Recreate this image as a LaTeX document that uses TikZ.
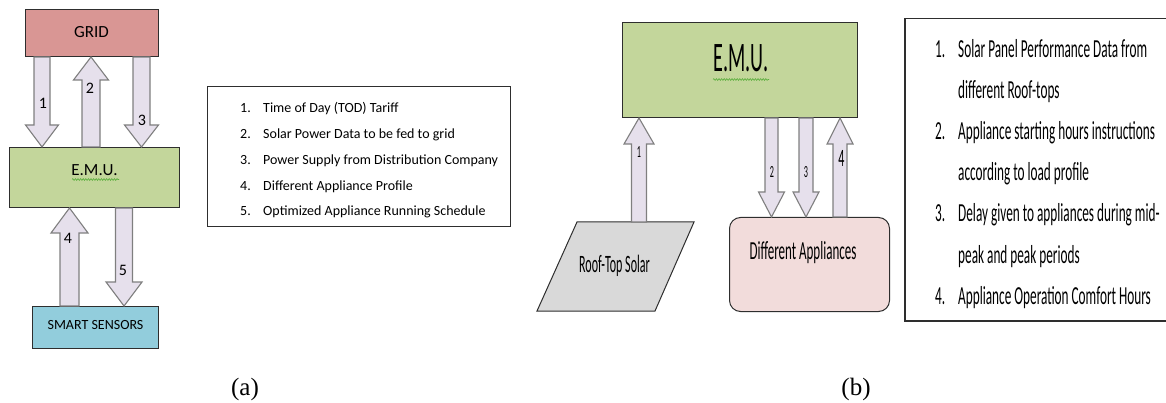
\documentclass[tikz,border=0pt]{standalone}
\usepackage{fontspec}
\usepackage{graphicx}
\setmainfont{Carlito}
\newfontfamily\serifcap{Liberation Serif}
\usetikzlibrary{calc,decorations.pathmorphing}

\definecolor{gridred}{HTML}{D99694}
\definecolor{emugreen}{HTML}{C3D69B}
\definecolor{sensorblue}{HTML}{92CDDC}
\definecolor{solargray}{HTML}{D9D9D9}
\definecolor{applpink}{HTML}{F2DCDB}
\definecolor{arrowfill}{HTML}{E6E0EC}
\definecolor{arrowline}{HTML}{7F7F7F}
\definecolor{boxline}{HTML}{2E2E2E}
\definecolor{spellgreen}{HTML}{5AAE3C}

% horizontally condensed text used in panel (b)
\newcommand\nrw[2][0.48]{\scalebox{#1}[1]{#2}}
\newcommand\fsz[1]{\fontsize{#1}{#1}\selectfont}

% vertical block arrow: tail point, tip point, shaft half-width, head half-width, head length
\newcommand\blockarrow[5]{%
  \filldraw[blockarr] let \p1=#1, \p2=#2, \n1={ifthenelse(\y2>\y1,1,-1)} in
    (\x1-#3,\y1) -- (\x1-#3,\y2-\n1*#5) -- (\x1-#4,\y2-\n1*#5) -- (\x2,\y2)
    -- (\x1+#4,\y2-\n1*#5) -- (\x1+#3,\y2-\n1*#5) -- (\x1+#3,\y1) -- cycle;}

\tikzset{
  box/.style={draw=boxline, line width=1pt, inner sep=0pt, anchor=north west},
  blockarr/.style={fill=arrowfill, draw=arrowline, line width=1.1pt, line join=miter},
  legendbox/.style={draw=boxline, line width=1pt},
  numlbl/.style={font=\fsz{16}, inner sep=0pt},
  numlblb/.style={font=\fsz{17}, inner sep=0pt},
  legA/.style={font=\fsz{14}, anchor=base west, inner sep=0pt},
  legB/.style={font=\fsz{26}, anchor=base west, inner sep=0pt},
  spell/.style={draw=spellgreen, line width=0.6pt, decorate,
    decoration={snake, amplitude=0.9pt, segment length=2.6pt}},
  caption/.style={font=\serifcap\fsz{25}, anchor=base, inner sep=0pt}
}

\begin{document}
\begin{tikzpicture}[x=1pt,y=-1pt]
\useasboundingbox (0,0) rectangle (1166,403);

% ---------------- panel (a) ----------------
\node[box, fill=gridred, minimum width=133pt, minimum height=47pt] (grid) at (25,9) {};
\node[box, fill=emugreen, minimum width=170pt, minimum height=60pt] (emuA) at (9,147) {};
\node[box, fill=sensorblue, minimum width=126pt, minimum height=42pt] (sensors) at (32,306) {};

\node[font=\fsz{17}, anchor=base, inner sep=0pt] (gridtxt) at (91.5,38) {GRID};
\node[font=\fsz{17}, anchor=base, inner sep=0pt] (emuAtxt) at (94.5,176) {E.M.U.};
\node[font=\fsz{14}, anchor=base, inner sep=0pt] (sensorstxt) at (95.5,329) {SMART SENSORS};
\draw[spell] (72,179.5) -- (119,179.5);

\blockarrow{(42,0 |- grid.south)}{(42,0 |- emuA.north)}{8pt}{16.5pt}{22pt}
\blockarrow{(91,0 |- emuA.north)}{(91,0 |- grid.south)}{9pt}{17.5pt}{23pt}
\blockarrow{(141.5,0 |- grid.south)}{(141.5,0 |- emuA.north)}{8.5pt}{17pt}{22pt}
\blockarrow{(69.5,0 |- sensors.north)}{(69.5,0 |- emuA.south)}{9.5pt}{18.5pt}{25pt}
\blockarrow{(124,0 |- emuA.south)}{(124,0 |- sensors.north)}{8.5pt}{18pt}{24pt}

\node[numlbl] (a1) at (43,103.5) {1};
\node[numlbl] (a2) at (90,88) {2};
\node[numlbl] (a3) at (142,120.5) {3};
\node[numlbl] (a4) at (68,238) {4};
\node[numlbl] (a5) at (123,270.5) {5};

% legend (a)
\draw[legendbox] (207,87) rectangle (510,227);
\foreach \i/\t [count=\k from 0] in {1/Time of Day (TOD) Tariff,
    2/Solar Power Data to be fed to grid,
    3/Power Supply from Distribution Company,
    4/Different Appliance Profile,
    5/Optimized Appliance Running Schedule}{
  \node[legA] (legAnum\i) at (240,113+25.7*\k) {\i.};
  \node[legA] (legAtxt\i) at (263,113+25.7*\k) {\t};
}

% ---------------- panel (b) ----------------
\node[box, fill=emugreen, minimum width=235pt, minimum height=95pt] (emuB) at (622,22) {};
\node[box, fill=applpink, rounded corners=11pt, minimum width=160pt, minimum height=94pt] (appl) at (729,217) {};
\filldraw[fill=solargray, draw=boxline, line width=1pt]
  (577,222) coordinate (solarNW) -- (694,222) coordinate (solarNE)
  -- (655,311) coordinate (solarSE) -- (537,311) coordinate (solarSW) -- cycle;

\node[font=\fsz{42}, anchor=base, inner sep=0pt] (emuBtxt) at (741,72) {\nrw{E.M.U.}};
\draw[spell] (713,79.5) -- (769,79.5);
\node[font=\fsz{25}, anchor=base, inner sep=0pt] (solar) at (614.5,272) {\nrw{Roof-Top Solar}};
\node[font=\fsz{26}, anchor=base, inner sep=0pt] (appltxt) at (803,259) {\nrw[0.5]{Different Appliances}};

\blockarrow{(639,0 |- solarNW)}{(639,0 |- emuB.south)}{7.5pt}{15pt}{26pt}
\blockarrow{(771.5,0 |- emuB.south)}{(771.5,0 |- appl.north)}{6.5pt}{13pt}{25pt}
\blockarrow{(806,0 |- emuB.south)}{(806,0 |- appl.north)}{7pt}{13pt}{25pt}
\blockarrow{(840,0 |- appl.north)}{(840,0 |- emuB.south)}{7pt}{13pt}{26pt}

\node[numlblb] (b1) at (639,152.5) {\nrw{1}};
\node[numlblb] (b2) at (772,172) {\nrw{2}};
\node[numlblb] (b3) at (806,172) {\nrw{3}};
\node[font=\fsz{25}, inner sep=0pt] (b4) at (841.5,158.5) {\nrw{4}};

% legend (b)
\draw[legendbox, line width=1.3pt] (905,18.5) rectangle (1172,321);
\node[legB] (legBn1) at (935,58) {\nrw[0.51]{1.}};
\node[legB] (legBt1) at (958,58) {\nrw[0.51]{Solar Panel Performance Data from}};
\node[legB] (legBt1b) at (958,99) {\nrw[0.51]{different Roof-tops}};
\node[legB] (legBn2) at (935,140) {\nrw[0.51]{2.}};
\node[legB] (legBt2) at (958,140) {\nrw[0.51]{Appliance starting hours instructions}};
\node[legB] (legBt2b) at (958,181) {\nrw[0.51]{according to load profile}};
\node[legB] (legBn3) at (935,222) {\nrw[0.51]{3.}};
\node[legB] (legBt3) at (958,222) {\nrw[0.51]{Delay given to appliances during mid-}};
\node[legB] (legBt3b) at (958,263) {\nrw[0.51]{peak and peak periods}};
\node[legB] (legBn4) at (935,304) {\nrw[0.51]{4.}};
\node[legB] (legBt4) at (958,304) {\nrw[0.51]{Appliance Operation Comfort Hours}};

% captions
\node[caption] (capA) at (245,395) {(a)};
\node[caption] (capB) at (856,395) {(b)};
\end{tikzpicture}
\end{document}
